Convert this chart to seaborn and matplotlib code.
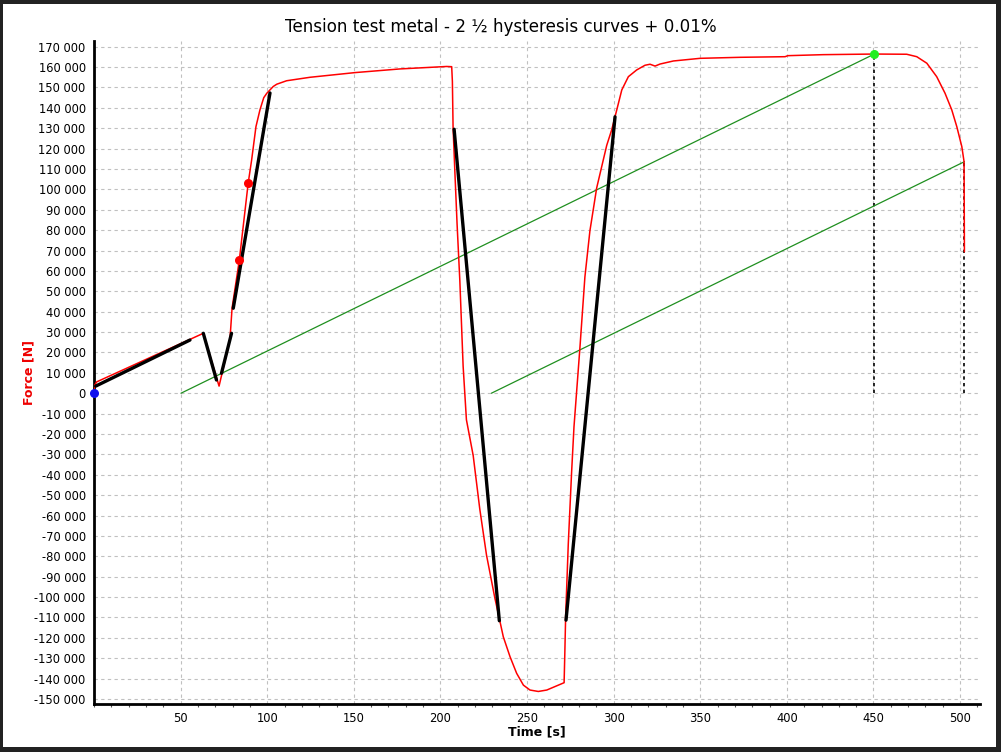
import numpy as np
import pandas as pd
import matplotlib
matplotlib.use("Agg")
import matplotlib.pyplot as plt
from matplotlib.patches import Rectangle
from matplotlib.ticker import FuncFormatter, MultipleLocator
import seaborn as sns

# ---------------- data ----------------
title = "Tension test metal - 2 \u00bd hysteresis curves + 0.01%"
x_label = "Time [s]"
y_label = "Force [N]"

# measured force curve (red)
time_s = [0, 0.5, 1.6, 63.1, 72.2, 78.5, 79.7, 83.9, 89.0, 91.0, 93.5, 95.8, 98.0,
          99.8, 103.5, 105.5, 111.2, 124.7, 150.7, 176.7, 203.6, 206.5, 206.9,
          207.3, 208.3, 209.6, 211.2, 213.1, 215.0, 218.9, 222.7, 226.6, 231.4,
          236.3, 240.2, 244.0, 247.9, 251.7, 256.5, 261.4, 271.4, 271.8, 272.3,
          273.8, 275.7, 277.1, 280.5, 283.4, 286.3, 290.2, 296.0, 298.9, 301.8,
          304.7, 308.5, 313.3, 318.1, 321.0, 323.9, 326.8, 334.5, 349.9, 373.0,
          399.0, 400.5, 421.0, 450.5, 469.2, 475.0, 480.8, 486.5, 491.3, 495.2,
          498.1, 501.0, 502.3, 502.5]
force_n = [800, 4200, 5600, 29400, 3500, 26500, 41700, 65300, 103000, 114400, 130800,
           139000, 145000, 147200, 150500, 151600, 153300, 155000, 157300, 159100,
           160300, 160200, 153000, 130400, 109400, 83200, 55200, 13300, -13000,
           -30500, -56700, -79400, -100400, -119500, -129300, -137400, -143200,
           -145600, -146300, -145600, -142000, -128000, -109100, -74100, -39200,
           -16500, 22000, 57000, 79700, 100700, 121600, 129300, 139000, 148800,
           155300, 158600, 160900, 161400, 160500, 161500, 163000, 164300, 164800,
           165100, 165600, 166100, 166400, 166300, 165100, 161900, 155300, 147200,
           139000, 130800, 121000, 113600, 69400]

# fitted straight segments (black)
fit_t0 = [1.0, 63.1, 73.6, 80.4, 207.9, 272.5]
fit_f0 = [3500, 29400, 9800, 41700, 129500, -111300]
fit_t1 = [55.4, 70.7, 79.4, 101.6, 234.0, 300.8]
fit_f1 = [26100, 6500, 29400, 147300, -111600, 135600]

# offset (0.01%) lines (green)
offset_t0 = [50.2, 229.4]
offset_t1 = [450.5, 502.5]
offset_f1 = [166400, 113600]

# points
blue_pt = (0, 0)
red_pts_t = [83.9, 89.0]
red_pts_f = [65300, 103000]
green_pt = (450.5, 166400)

x_ticks = [50, 100, 150, 200, 250, 300, 350, 400, 450, 500]
y_ticks = list(range(-150000, 170001, 10000))

# ---------------- figure ----------------
sns.set_style("white")
plt.rcParams["font.family"] = ["DejaVu Sans"]
plt.rcParams["text.color"] = "black"

W, H = 1001, 752
fig = plt.figure(figsize=(W / 100, H / 100), dpi=100)
fig.patch.set_facecolor("#222222")
fig.add_artist(Rectangle((3 / W, 5 / H), 993 / W, 743 / H, transform=fig.transFigure,
                         facecolor="white", edgecolor="none", zorder=0))

ax = fig.add_axes([94 / W, 1 - 704 / H, (980 - 94) / W, (704 - 41) / H])
ax.set_facecolor("white")

df = pd.DataFrame({"t": time_s, "F": force_n})
sns.lineplot(data=df, x="t", y="F", sort=False, estimator=None, ax=ax,
             color="#ff0000", linewidth=1.1, zorder=3)

for a, b, c, d in zip(fit_t0, fit_f0, fit_t1, fit_f1):
    sns.lineplot(x=[a, c], y=[b, d], sort=False, estimator=None, ax=ax,
                 color="black", linewidth=2.4, zorder=4)

for a, c, d in zip(offset_t0, offset_t1, offset_f1):
    sns.lineplot(x=[a, c], y=[0, d], sort=False, estimator=None, ax=ax,
                 color="#1f8f1f", linewidth=0.9, zorder=2)
    ax.plot([c, c], [0, d], color="black", linewidth=1.2,
            linestyle=(0, (2, 2)), zorder=2)

ax.scatter([blue_pt[0]], [blue_pt[1]], s=30, color="#1010ee", zorder=6, clip_on=False)
ax.scatter(red_pts_t, red_pts_f, s=30, color="#ff0000", zorder=6)
ax.scatter([green_pt[0]], [green_pt[1]], s=30, color="#22ee22", zorder=6)

ax.set_xlim(0, 511.5)
ax.set_ylim(-152450, 172800)
ax.set_xticks(x_ticks)
ax.set_yticks(y_ticks)
ax.xaxis.set_minor_locator(MultipleLocator(10))
ax.yaxis.set_major_formatter(FuncFormatter(lambda v, p: f"{int(round(v)):,}".replace(",", " ")))

ax.grid(True, which="major", color="#c0c0c0", linestyle=(0, (3, 3)), linewidth=0.8)
for s in ["top", "right"]:
    ax.spines[s].set_visible(False)
for s in ["left", "bottom"]:
    ax.spines[s].set_color("black")
    ax.spines[s].set_linewidth(2)

ax.tick_params(axis="both", which="major", direction="out", length=4, width=1,
               labelsize=8.3, color="#555555", labelcolor="black", pad=2)
ax.tick_params(axis="x", which="minor", direction="out", length=2, width=0.8,
               color="#555555", bottom=True)
ax.tick_params(axis="x", which="major", pad=2)

ax.set_xlabel(x_label, fontsize=9, fontweight="bold", color="black")
ax.xaxis.set_label_coords(0.5, -0.032)
ax.set_ylabel(y_label, fontsize=9, fontweight="bold", color="#ee0000")
ax.yaxis.set_label_coords(-0.066, 0.5)

fig.text(0.5, 1 - 27 / H, title, ha="center", va="center", fontsize=12.1, color="black")

fig.savefig("out.png", dpi=100, facecolor=fig.get_facecolor())
